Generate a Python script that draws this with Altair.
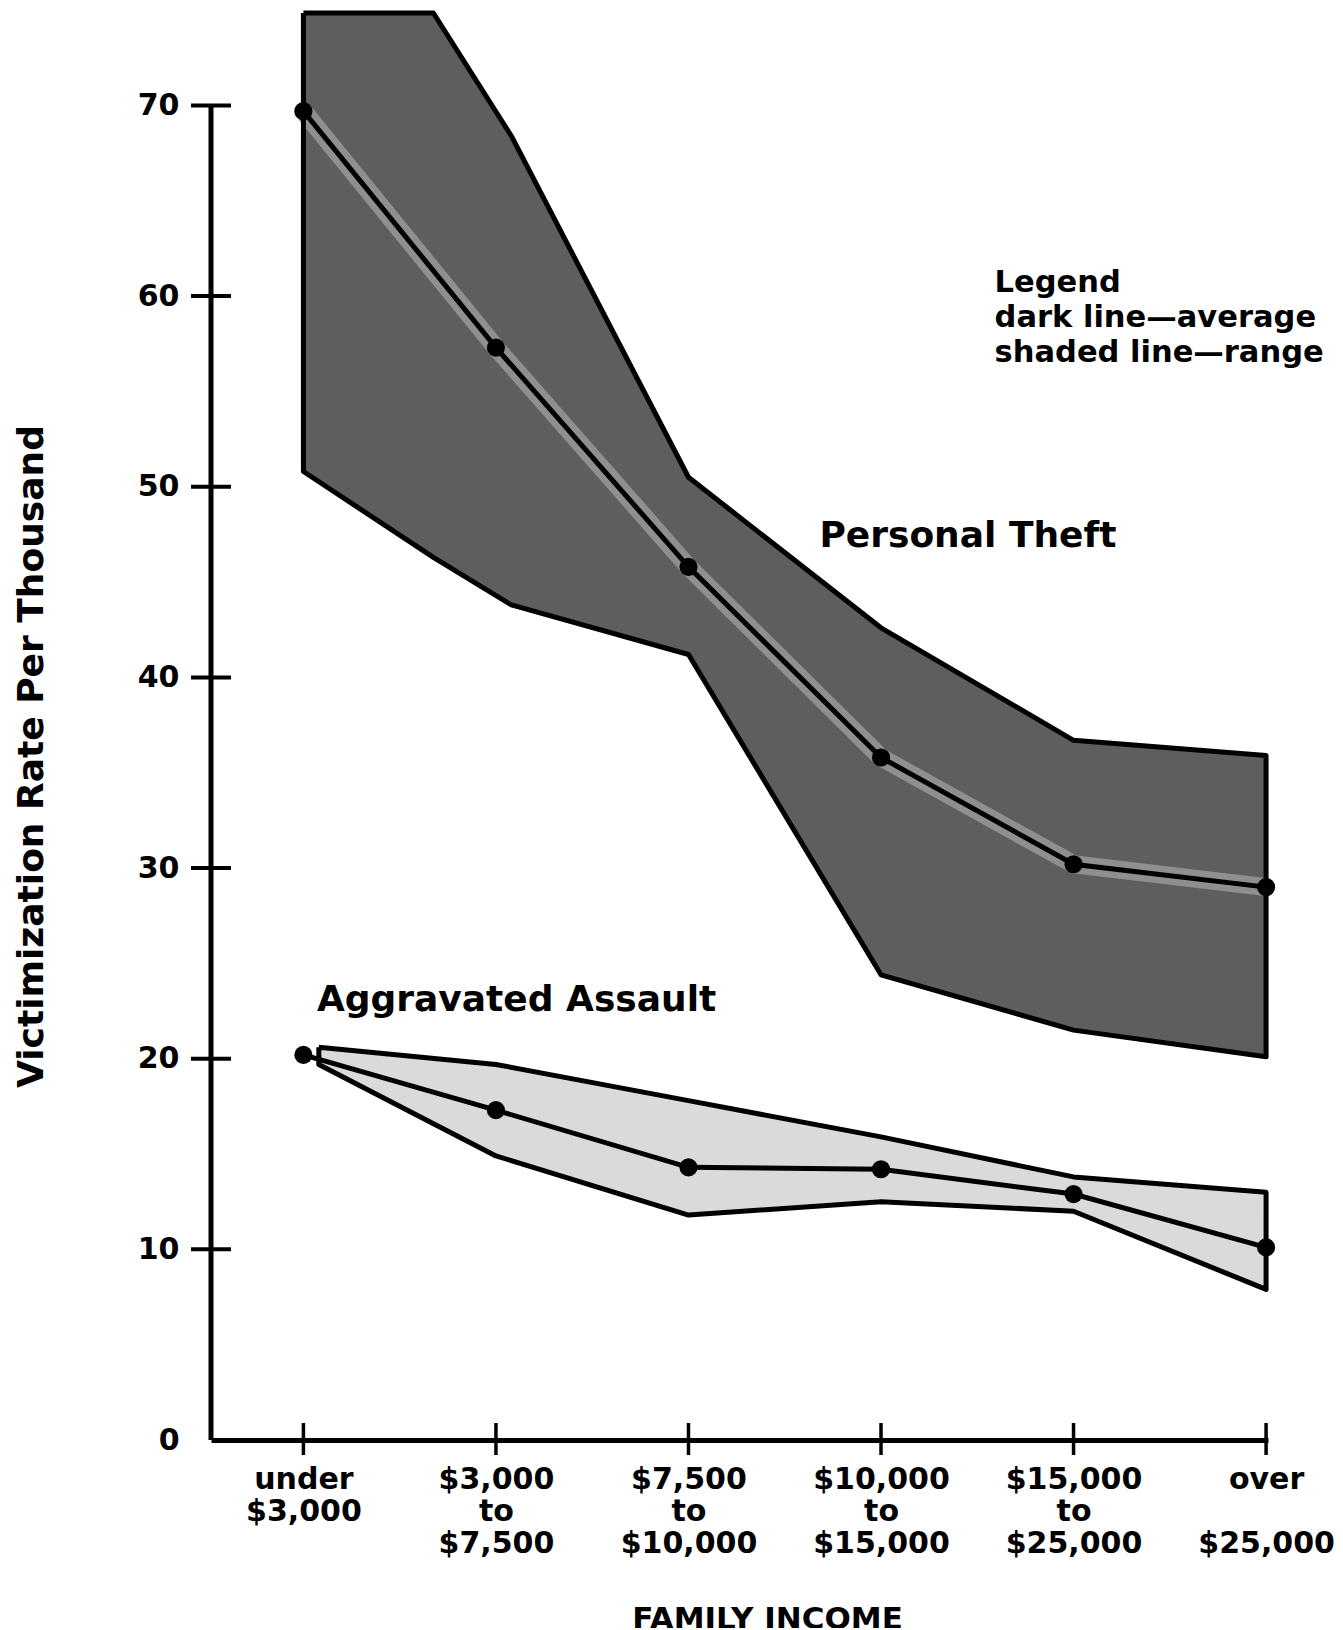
import json
import altair as alt
import pandas as pd

# ---------------- data ----------------
categories = ["under $3,000", "$3,000 to $7,500", "$7,500 to $10,000",
              "$10,000 to $15,000", "$15,000 to $25,000", "over $25,000"]
tick_label_lines = [["under", "$3,000"],
                    ["$3,000", "to", "$7,500"],
                    ["$7,500", "to", "$10,000"],
                    ["$10,000", "to", "$15,000"],
                    ["$15,000", "to", "$25,000"],
                    ["over", "\u200b", "$25,000"]]
cat_pos = [0, 1, 2, 3, 4, 5]
y_ticks = [0, 10, 20, 30, 40, 50, 60, 70]

# Personal theft: average and range
theft_avg = [69.7, 57.3, 45.8, 35.8, 30.2, 29.0]
theft_band_x = [0, 0.675, 1.08, 2, 3, 4, 5]
theft_band_hi = [74.85, 74.85, 68.4, 50.5, 42.6, 36.7, 35.9]
theft_band_lo = [50.8, 46.3, 43.8, 41.2, 24.4, 21.5, 20.1]

# Aggravated assault: average and range
assault_avg = [20.2, 17.3, 14.3, 14.2, 12.9, 10.1]
assault_band_x = [0.08, 1, 2, 3, 4, 5]
assault_band_hi = [20.6, 19.7, 17.8, 15.9, 13.8, 13.0]
assault_band_lo = [19.7, 14.9, 11.8, 12.5, 12.0, 7.9]

# annotations (text, x position in category units, y value, font size)
ann_text = ["Personal Theft", "Aggravated Assault", "Legend",
            "dark line\u2014average", "shaded line\u2014range"]
ann_x = [2.68, 0.07, 3.59, 3.59, 3.59]
ann_y = [47.4, 23.1, 60.7, 58.85, 57.0]
ann_fs = [36, 36, 30.5, 30.5, 30.5]

# ---------------- layout / style ----------------
FONT = "DejaVu Sans"
X_MIN, X_MAX = -0.48, 5.01
Y_MIN, Y_MAX = 0, 74.85
AXIS_TOP = 70

xs = alt.Scale(domain=[X_MIN, X_MAX], nice=False, zero=False)
ys = alt.Scale(domain=[Y_MIN, Y_MAX], nice=False, zero=False)

label_expr = json.dumps(tick_label_lines, ensure_ascii=False) + "[datum.value]"

x_axis = alt.Axis(values=cat_pos, labelExpr=label_expr, ticks=False, tickSize=0,
                  domain=True, domainWidth=5, domainColor="black", grid=False,
                  labelFont=FONT, labelFontWeight="bold", labelFontSize=30,
                  labelColor="black", labelPadding=24, labelLineHeight=32,
                  labelFlush=False, labelOverlap=False, labelBound=False,
                  title="FAMILY INCOME", titleFont=FONT, titleFontWeight="bold",
                  titleFontSize=31, titleColor="black", titleX=556, titleY=164,
                  titleAlign="center", titleBaseline="top", titleAngle=0)

y_axis = alt.Axis(values=y_ticks, ticks=False, tickSize=0, domain=False, grid=False,
                  labelFont=FONT, labelFontWeight="bold", labelFontSize=30,
                  labelColor="black", labelPadding=32, labelFlush=False,
                  labelOverlap=False, labelBound=False,
                  title="Victimization Rate Per Thousand", titleFont=FONT,
                  titleFontWeight="bold", titleFontSize=36, titleColor="black",
                  titleAngle=270, titleX=-180, titleY=743,
                  titleAlign="center", titleBaseline="middle")


def X(field):
    return alt.X(field, type="quantitative", scale=xs, axis=x_axis)


def Y(field):
    return alt.Y(field, type="quantitative", scale=ys, axis=y_axis)


# ---------------- tables ----------------
theft_band = pd.DataFrame({"x": theft_band_x, "hi": theft_band_hi, "lo": theft_band_lo})
assault_band = pd.DataFrame({"x": assault_band_x, "hi": assault_band_hi, "lo": assault_band_lo})


def outline(name, bx, hi, lo):
    xs_ = list(bx) + list(reversed(bx)) + [bx[0]]
    ys_ = list(hi) + list(reversed(lo)) + [hi[0]]
    return pd.DataFrame({"x": xs_, "y": ys_, "order": list(range(len(xs_))),
                         "series": name})


outlines = pd.concat([
    outline("theft", theft_band_x, theft_band_hi, theft_band_lo),
    outline("assault", assault_band_x, assault_band_hi, assault_band_lo),
], ignore_index=True)

avg = pd.concat([
    pd.DataFrame({"x": cat_pos, "y": theft_avg, "series": "theft"}),
    pd.DataFrame({"x": cat_pos, "y": assault_avg, "series": "assault"}),
], ignore_index=True)
theft_only = pd.DataFrame({"x": cat_pos, "y": theft_avg})

ann = pd.DataFrame({"text": ann_text, "x": ann_x, "y": ann_y, "fs": ann_fs})
ytick_df = pd.DataFrame({"v": [v for v in y_ticks if v > 0]})
ytick_df["ax"] = X_MIN
xtick_df = pd.DataFrame({"c": cat_pos})
xtick_df["base"] = 0
yaxis_df = pd.DataFrame({"ax": [X_MIN], "bottom": [0], "top": [AXIS_TOP]})

# ---------------- layers ----------------
theft_fill = alt.Chart(theft_band).mark_area(color="#5e5e5e").encode(
    x=X("x"), y=Y("hi"), y2=alt.Y2("lo"))
assault_fill = alt.Chart(assault_band).mark_area(color="#dadada").encode(
    x=X("x"), y=Y("hi"), y2=alt.Y2("lo"))

halo = alt.Chart(theft_only).mark_line(color="#8f8f8f", strokeWidth=18,
                                       strokeJoin="round", strokeCap="round").encode(
    x=X("x"), y=Y("y"))

band_lines = alt.Chart(outlines).mark_line(color="black", strokeWidth=5,
                                           strokeJoin="round").encode(
    x=X("x"), y=Y("y"), order=alt.Order("order:Q"), detail="series:N")

avg_lines = alt.Chart(avg).mark_line(color="black", strokeWidth=5).encode(
    x=X("x"), y=Y("y"), detail="series:N")
avg_points = alt.Chart(avg).mark_circle(color="black", size=330, opacity=1).encode(
    x=X("x"), y=Y("y"))

y_axis_line = alt.Chart(yaxis_df).mark_rule(color="black", strokeWidth=5).encode(
    x=X("ax"), y=Y("bottom"), y2=alt.Y2("top"))
y_tick_marks = alt.Chart(ytick_df).mark_rule(color="black", strokeWidth=4,
                                             xOffset=-20, x2Offset=20).encode(
    x=X("ax"), x2=alt.X2("ax"), y=Y("v"))
x_tick_marks = alt.Chart(xtick_df).mark_rule(color="black", strokeWidth=3.5,
                                             yOffset=-17, y2Offset=15).encode(
    x=X("c"), y=Y("base"), y2=alt.Y2("base"))

labels = alt.Chart(ann).mark_text(font=FONT, fontWeight="bold", align="left",
                                  baseline="middle", color="black").encode(
    x=X("x"), y=Y("y"), text="text:N", size=alt.Size("fs:Q", scale=None))

chart = alt.layer(
    assault_fill, theft_fill, halo, band_lines, avg_lines, avg_points,
    y_axis_line, y_tick_marks, x_tick_marks, labels
).properties(
    width=1057, height=1427,
    autosize=alt.AutoSizeParams(type="none"),
    padding={"left": 203, "top": 5, "right": 67, "bottom": 188},
    background="white",
).configure_view(strokeWidth=0)

chart.save("out.html", embed_options={"renderer": "svg", "actions": False})
